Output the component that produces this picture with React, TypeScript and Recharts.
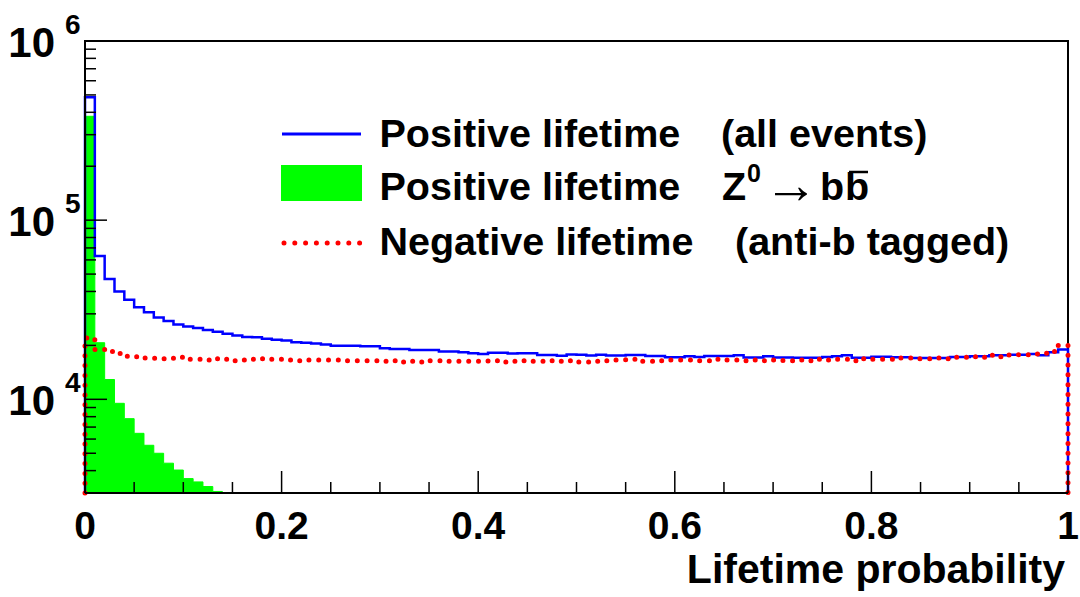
import React from 'react';
import { ComposedChart, Line, Area, XAxis, YAxis, ReferenceArea, Legend } from 'recharts';

const FONT = "'Liberation Sans', Arial, Helvetica, sans-serif";

const Y_MIN = 3000;
const Y_MAX = 1000000;
const BIN_WIDTH = 0.01;

// Positive lifetime (all events), 100 bins of width 0.01
const BLUE_ALL = [
  485000, 63000, 47000, 40000, 36000, 32700, 30600, 28600, 27400, 26200,
  25500, 25000, 24400, 23800, 23200, 22700, 22300, 22200, 21800, 21500,
  21300, 20800, 20700, 20500, 20200, 19900, 19900, 19900, 19750, 19750,
  19300, 19100, 19100, 18850, 18850, 18850, 18500, 18500, 18300, 18100,
  17900, 18200, 18200, 18000, 18100, 18100, 17700, 17700, 17500, 17800,
  17760, 17540, 17760, 17540, 17540, 17670, 17670, 17440, 17440, 17150,
  17150, 17380, 17220, 17440, 17440, 17440, 17600, 17100, 17100, 17380,
  17100, 17100, 17050, 17050, 17050, 17220, 17380, 17600, 17080, 17080,
  17310, 17310, 17150, 17150, 17000, 17000, 17000, 17000, 17220, 17220,
  17380, 17380, 17600, 17600, 17760, 17760, 17900, 17600, 18300, 19000,
];

// Negative lifetime (anti-b tagged)
const RED_NEG = [
  22000, 19000, 18500, 18000, 17400, 17300, 17000, 16940, 16870, 17150,
  16720, 16720, 16570, 16870, 16720, 16440, 16570, 16720, 16870, 16720,
  16570, 16440, 16570, 16570, 16570, 16570, 16440, 16440, 16440, 16440,
  16300, 16440, 16150, 16300, 16150, 16440, 16440, 16300, 16300, 16300,
  16300, 16440, 16150, 16300, 16440, 16300, 16300, 16440, 16300, 16440,
  16150, 16150, 16300, 16440, 16570, 16720, 16300, 16300, 16440, 16570,
  16570, 16570, 16440, 16440, 16720, 16570, 16570, 16440, 16570, 16440,
  16570, 16440, 16570, 16440, 16720, 16570, 16720, 16720, 16440, 16870,
  16720, 16720, 16720, 17000, 16870, 16870, 17000, 16870, 17150, 17150,
  17310, 17150, 17600, 17310, 17760, 17760, 17900, 18060, 18500, 20000,
];

// Positive lifetime Z0 -> b bbar (non-empty bins)
const GREEN_BB = [
  380000, 20700, 12900, 9500, 7800, 6460, 5540, 5000, 4400, 4030, 3610, 3460, 3260, 3060,
];

const X_TICKS = [0, 0.05, 0.1, 0.15, 0.2, 0.25, 0.3, 0.35, 0.4, 0.45, 0.5, 0.55, 0.6, 0.65, 0.7, 0.75, 0.8, 0.85, 0.9, 0.95, 1];
const X_LABELLED = [0, 0.2, 0.4, 0.6, 0.8, 1];
const X_LABELS = ['0', '0.2', '0.4', '0.6', '0.8', '1'];
const X_TITLE = 'Lifetime probability';

const Y_TICKS = [
  4000, 5000, 6000, 7000, 8000, 9000, 10000,
  20000, 30000, 40000, 50000, 60000, 70000, 80000, 90000, 100000,
  200000, 300000, 400000, 500000, 600000, 700000, 800000, 900000, 1000000,
];
const Y_MAJOR = [10000, 100000, 1000000];
const Y_BASE = '10';
const Y_EXPONENTS = ['4', '5', '6'];

const LEGEND_LABELS = ['Positive lifetime', 'Positive lifetime', 'Negative lifetime'];
const LEGEND_NOTES = ['(all events)', 'Z0 → bb̄', '(anti-b tagged)'];

const binX = (i: number) => Number((i * BIN_WIDTH).toFixed(2));

const outlineData = (vals: number[]) => [
  { x: 0, y: Y_MIN },
  ...vals.map((v, i) => ({ x: binX(i), y: v })),
  { x: 1, y: vals[vals.length - 1] },
  { x: 1, y: Y_MIN },
];

const blueData = outlineData(BLUE_ALL);
const redData = outlineData(RED_NEG);
const greenData = [
  ...GREEN_BB.map((v, i) => ({ x: binX(i), y: v })),
  { x: binX(GREEN_BB.length), y: GREEN_BB[GREEN_BB.length - 1] },
];

const XTick = (props: any) => {
  const { x, y, payload } = props;
  const idx = X_LABELLED.findIndex((v) => Math.abs(v - payload.value) < 1e-9);
  const major = idx >= 0;
  return (
    <g>
      <line x1={x} y1={y} x2={x} y2={y - (major ? 22 : 11)} stroke="#000" strokeWidth={1.5} />
      {major && (
        <text x={x} y={y + 46} textAnchor="middle" fontFamily={FONT} fontWeight="bold" fontSize={39} fill="#000">
          {X_LABELS[idx]}
        </text>
      )}
    </g>
  );
};

const YTick = (props: any) => {
  const { x, y, payload } = props;
  const idx = Y_MAJOR.findIndex((v) => Math.abs(v - payload.value) < 1e-6 * v);
  const major = idx >= 0;
  return (
    <g>
      <line x1={x} y1={y} x2={x + (major ? 22 : 11)} y2={y} stroke="#000" strokeWidth={1.5} />
      {major && (
        <g fontFamily={FONT} fontWeight="bold" fill="#000">
          <text x={x - 30} y={y + 16} textAnchor="end" fontSize={42}>{Y_BASE}</text>
          <text x={x - 20} y={y - 7} textAnchor="start" fontSize={28}>{Y_EXPONENTS[idx]}</text>
        </g>
      )}
    </g>
  );
};

const XTitle = (props: any) => {
  const vb = props.viewBox || { x: 85, y: 493, width: 983, height: 104 };
  return (
    <text x={vb.x + vb.width - 3} y={vb.y + 90} textAnchor="end" fontFamily={FONT} fontWeight="bold" fontSize={41} fill="#000">
      {X_TITLE}
    </text>
  );
};

const LegendBox = () => {
  const ts = { fontFamily: FONT, fontWeight: 'bold' as const, fontSize: 39.5, fill: '#000' };
  return (
    <svg width={780} height={170} style={{ display: 'block', overflow: 'visible' }}>
      <line x1={12} y1={34} x2={91} y2={34} stroke="#0000ff" strokeWidth={3} />
      <text x={109.5} y={47} {...ts}>{LEGEND_LABELS[0]}</text>
      <text x={451} y={47} {...ts}>{LEGEND_NOTES[0]}</text>

      <rect x={11} y={65} width={81} height={36} fill="#00ff00" />
      <text x={109.5} y={100} {...ts}>{LEGEND_LABELS[1]}</text>
      <text x={452} y={100} {...ts}>Z</text>
      <text x={477} y={82} {...ts} fontSize={25}>0</text>
      <text x={494} y={103} {...ts} fontSize={54} fontWeight="normal">→</text>
      <text x={550} y={100} {...ts}>b</text>
      <text x={575} y={100} {...ts}>b</text>
      <line x1={579} y1={72} x2={598} y2={72} stroke="#000" strokeWidth={2.5} />

      <line x1={14} y1={143} x2={90} y2={143} stroke="#ff0000" strokeWidth={5} strokeLinecap="round" strokeDasharray="0 10.8" />
      <text x={109.5} y={155} {...ts}>{LEGEND_LABELS[2]}</text>
      <text x={465} y={155} {...ts}>{LEGEND_NOTES[2]}</text>
    </svg>
  );
};

export default function App() {
  return (
    <div style={{ position: 'absolute', left: 0, top: 0, width: 1080, height: 597, background: '#fff' }}>
      <ComposedChart width={1080} height={597} margin={{ top: 41, right: 12, bottom: 0, left: 0 }}>
        <ReferenceArea x1={0} x2={1} y1={Y_MIN} y2={Y_MAX} fill="none" stroke="#000" strokeWidth={2} />
        <Area
          data={greenData}
          dataKey="y"
          type="stepAfter"
          baseValue={Y_MIN}
          fill="#00ff00"
          fillOpacity={1}
          stroke="#00ff00"
          strokeWidth={1}
          isAnimationActive={false}
          dot={false}
          activeDot={false}
        />
        <Line
          data={blueData}
          dataKey="y"
          type="stepAfter"
          stroke="#0000ff"
          strokeWidth={2.5}
          dot={false}
          activeDot={false}
          isAnimationActive={false}
        />
        <Line
          data={redData}
          dataKey="y"
          type="stepAfter"
          stroke="#ff0000"
          strokeWidth={5}
          strokeLinecap="round"
          strokeDasharray="0 9.8"
          dot={false}
          activeDot={false}
          isAnimationActive={false}
        />
        <XAxis
          dataKey="x"
          type="number"
          domain={[0, 1]}
          ticks={X_TICKS}
          interval={0}
          tickSize={0}
          tickMargin={0}
          tickLine={false}
          tick={<XTick />}
          axisLine={{ stroke: '#000', strokeWidth: 2 }}
          height={104}
          label={(p: any) => <XTitle {...p} />}
        />
        <YAxis
          type="number"
          scale="log"
          domain={[Y_MIN, Y_MAX]}
          ticks={Y_TICKS}
          interval={0}
          tickSize={0}
          tickMargin={0}
          tickLine={false}
          tick={<YTick />}
          axisLine={{ stroke: '#000', strokeWidth: 2 }}
          width={85}
        />
        <Legend
          layout="vertical"
          align="center"
          verticalAlign="middle"
          wrapperStyle={{ left: 270, top: 100, width: 780, height: 170 }}
          content={() => <LegendBox />}
        />
      </ComposedChart>
    </div>
  );
}
